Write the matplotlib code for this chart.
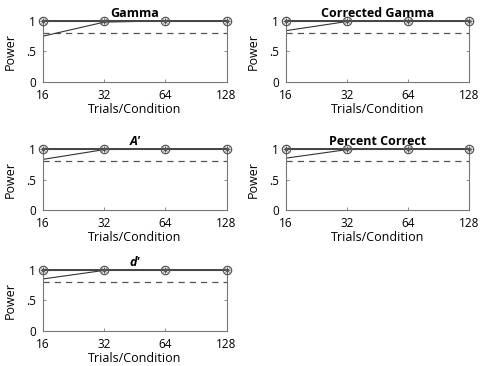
import matplotlib.pyplot as plt

# Data
trials = [16, 32, 64, 128]
titles = ["Gamma", "Corrected Gamma", "A\u2032", "Percent Correct", "d\u2032"]
title_italic = [False, False, True, False, True]
power_high = [
    [1.0, 1.0, 1.0, 1.0],
    [1.0, 1.0, 1.0, 1.0],
    [1.0, 1.0, 1.0, 1.0],
    [1.0, 1.0, 1.0, 1.0],
    [1.0, 1.0, 1.0, 1.0],
]
power_low = [
    [0.75, 0.98, 1.0, 1.0],
    [0.84, 0.99, 1.0, 1.0],
    [0.83, 0.99, 1.0, 1.0],
    [0.85, 0.99, 1.0, 1.0],
    [0.85, 0.99, 1.0, 1.0],
]
criterion = 0.8

plt.rcParams['font.family'] = ['Open Sans', 'DejaVu Sans']

fig = plt.figure(figsize=(4.8, 3.66), dpi=100)

lefts = [0.090, 0.596]
bottoms = [0.776, 0.426, 0.096]
width = 0.382
height = 0.167

for i, title in enumerate(titles):
    row, col = divmod(i, 2)
    ax = fig.add_axes([lefts[col], bottoms[row], width, height])
    ax.plot(trials, power_low[i], color='#333333', lw=0.8, zorder=2)
    ax.plot(trials, power_high[i], color='#444444', lw=1.4, marker='o', ms=6,
            mfc='none', mec='#555555', mew=0.9, zorder=3, clip_on=False)
    ax.plot(trials, power_high[i], ls='none', marker='+', ms=5, mec='#555555',
            mew=0.7, zorder=4, clip_on=False)
    ax.plot(trials, power_high[i], ls='none', marker='x', ms=3.5, mec='#555555',
            mew=0.7, zorder=4, clip_on=False)
    ax.axhline(criterion, color='#555555', lw=0.9, dashes=(5, 4), zorder=1)

    ax.set_xscale('log', base=2)
    ax.set_xlim(16, 128)
    ax.set_ylim(0, 1)
    ax.set_xticks(trials)
    ax.set_xticklabels([str(t) for t in trials])
    ax.minorticks_off()
    ax.set_yticks([0, 0.5, 1])
    ax.set_yticklabels(['0', '.5', '1'])
    ax.tick_params(direction='in', length=2.5, width=0.6, color='#777777',
                   labelsize=8.5, top=True, right=True)
    ax.tick_params(axis='x', pad=5)
    ax.tick_params(axis='y', pad=5)
    for s in ax.spines.values():
        s.set_color('#777777')
        s.set_linewidth(0.8)
    ax.set_xlabel('Trials/Condition', fontsize=9, labelpad=1)
    ax.set_ylabel('Power', fontsize=9, labelpad=7)
    ax.set_title(title, fontsize=9, fontweight='bold',
                 fontstyle='italic' if title_italic[i] else 'normal', pad=3)

fig.savefig('out.png', dpi=100)
